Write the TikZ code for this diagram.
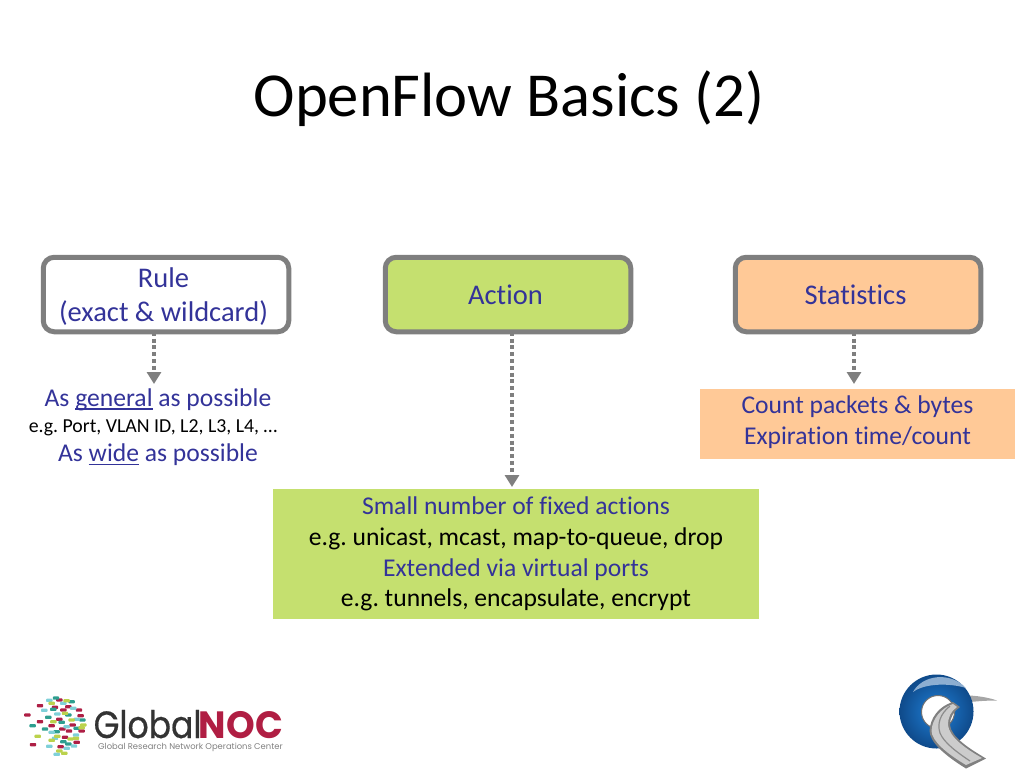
\documentclass[tikz,border=0pt]{standalone}
\usepackage{fontspec}
\setmainfont[RawFeature={-liga}]{Carlito}
\newfontfamily\logofont[FakeStretch=0.87,FakeBold=0.5]{Poppins}
\newfontfamily\logoboldfont[FakeStretch=0.96,BoldFont={Poppins Bold}]{Poppins}
\newfontfamily\logosmallfont{Poppins}
\usepackage{xcolor}
\usetikzlibrary{arrows.meta,positioning,calc}

\definecolor{slateblue}{HTML}{333399}
\definecolor{edgegray}{HTML}{7F7F7F}
\definecolor{actiongreen}{HTML}{C5E06F}
\definecolor{statorange}{HTML}{FFC997}
\definecolor{nocred}{HTML}{B01E43}
\definecolor{tilered}{HTML}{AE1F45}
\definecolor{tileteal}{HTML}{2E9E8F}
\definecolor{tilesky}{HTML}{7FD0D8}
\definecolor{tilelime}{HTML}{BBD24C}
\definecolor{ringtop}{HTML}{A3BFDC}
\definecolor{ringmid}{HTML}{1F80D8}
\definecolor{ringlow}{HTML}{0F4A8A}

\newcommand{\bodysize}{\fontsize{25.6}{30.8}\selectfont}
\newcommand{\ulword}[1]{\setbox0=\hbox{#1}\rlap{\rule[-3pt]{\wd0}{1.4pt}}\box0\relax}
\newcommand{\shifttext}[2]{\rule[-5pt]{0pt}{\dimexpr 5pt+2\dimexpr#1\relax\relax}\smash{\begin{tabular}{@{}c@{}}#2\end{tabular}}}
\newcommand{\headtext}[1]{\shifttext{12.5pt}{#1}\kern5pt}
\frenchspacing

\begin{document}
\begin{tikzpicture}[
    x=1pt, y=-1pt,
    headbox/.style={rectangle, rounded corners=11pt, draw=edgegray, line width=5pt,
        minimum width=245.5pt, minimum height=74.5pt, outer sep=0pt, align=center,
        text=slateblue, font=\fontsize{28.5}{31}\selectfont},
    notebox/.style={rectangle, outer sep=0pt, align=center, font=\bodysize, text=slateblue},
    noteline/.style={inner sep=0pt, text=slateblue, font=\bodysize},
    arrow/.style={-{Triangle[length=12pt,width=14pt]}, draw=edgegray, line width=4.4pt,
        dash pattern=on 4pt off 2.8pt},
    tile/.style={fill=#1, rounded corners=0.8pt}
]
    \useasboundingbox (0,0) rectangle (1024,768);

    \node[font=\fontsize{62.6}{70}\selectfont] (title) at (509,99) {OpenFlow Basics (2)};

    \node[headbox, fill=white] (rule) at (166,294.5) {\headtext{Rule\\[3pt](exact \& wildcard)}};
    \node[headbox, fill=actiongreen, right=96.5pt of rule] (action) {\headtext{Action}};
    \node[headbox, fill=statorange, right=104.5pt of action] (stats) {\headtext{Statistics}};

    \node[noteline] (general) at (158,400) {As \ulword{general} as possible};
    \node[noteline, text=black, font=\fontsize{19.8}{24}\selectfont, below=8pt of general, xshift=-5pt] (fields) {e.g. Port, VLAN ID, L2, L3, L4, …};
    \node[noteline, below=8pt of fields, xshift=5pt] (wide) {As \ulword{wide} as possible};

    \node[notebox, fill=statorange, minimum width=315pt, minimum height=70pt] (count) at (857.5,424)
        {\shifttext{7.5pt}{Count packets \& bytes\\Expiration time/count}};
    \node[notebox, fill=actiongreen, minimum width=486pt, minimum height=130pt] (fixed) at (516,554)
        {Small number of fixed actions\\
         \textcolor{black}{e.g. unicast, mcast, map-to-queue, drop}\\
         Extended via virtual ports\\
         \textcolor{black}{e.g. tunnels, encapsulate, encrypt}};

    \coordinate (generaltip) at (154,384);
    \coordinate (fixedtip) at (512,487);
    \coordinate (counttip) at (854,384);
    \draw[arrow] (rule.south -| generaltip) -- (generaltip);
    \draw[arrow] (action.south -| fixedtip) -- (fixedtip);
    \draw[arrow] (stats.south -| counttip) -- (counttip);

    % GlobalNOC logo
    \foreach \tx/\ty in {82/135,120/107,120/155,99/224,178/90,205/110,190/120,165/112,237/120,242/137,178/148,155/167,187/177,207/183,245/183,218/165,195/202,230/217,182/230}
        \fill[tile=tilered] ({\tx/3-3.2},{670+\ty/3-1.6}) rectangle ++(6.4,3.2);
    \foreach \tx/\ty in {168/84,160/118,135/177,98/167,145/142,185/157,205/135,230/175,190/215,205/222,247/150,215/95,170/185}
        \fill[tile=tileteal] ({\tx/3-3.2},{670+\ty/3-1.6}) rectangle ++(6.4,3.2);
    \foreach \tx/\ty in {148/91,133/121,190/100,172/132,220/115,155/187,165/205,228/195,148/229,170/253,222/228,200/235,230/148,200/170}
        \fill[tile=tilesky] ({\tx/3-3.2},{670+\ty/3-1.6}) rectangle ++(6.4,3.2);
    \foreach \tx/\ty in {155/100,200/92,113/199,160/155,195/130,215/150,245/173,172/199,155/211,212/207,228/205,178/243,193/250,250/165}
        \fill[tile=tilelime] ({\tx/3-3.2},{670+\ty/3-1.6}) rectangle ++(6.4,3.2);
    \node[anchor=base west, inner sep=0pt, font=\logofont\fontsize{38}{40}\selectfont, text=black!80] (globalword) at (93.5,738) {Global};
    \node[anchor=base west, inner sep=0pt, font=\logoboldfont\bfseries\fontsize{38}{40}\selectfont, text=nocred, xshift=-3pt] (nocword) at (globalword.base east) {NOC};
    \node[anchor=base west, inner sep=0pt, font=\logosmallfont\fontsize{8.4}{10}\selectfont, text=black!50] (nocname) at (98,749.5) {Global Research Network Operations Center};

    % Q logo
    \fill[black!35] (969,695.5) .. controls (980,696) and (990,698) .. (997,700.5)
        .. controls (988,700.5) and (980,701) .. (970,702) -- cycle;
    \shade[even odd rule, inner color=ringmid, outer color=ringlow]
        (936.5,711.5) circle (37) (938,712) circle (16.5);
    \fill[ringtop, opacity=0.85] (913,692) .. controls (922,675) and (950,671) .. (966,688)
        .. controls (950,683) and (925,683) .. (913,692) -- cycle;
    \draw[black!55, line width=1pt] (938,712) circle (16.5);
    \fill[black!50] (953,702) .. controls (939,706) and (930,718) .. (929.5,731)
        .. controls (930,742) and (944,755) .. (966,768.5)
        -- (986,758.5) .. controls (970,749) and (951,737) .. (950,725)
        .. controls (950,717) and (954,711) .. (960,707) -- cycle;
    \fill[black!20] (953,704) .. controls (941,708) and (932,719) .. (931.5,731)
        .. controls (932,741) and (946,753) .. (966,765)
        -- (982,758) .. controls (966,749) and (949,737) .. (948,725)
        .. controls (948,717) and (951,711) .. (957,707) -- cycle;
    \draw[black!45, line width=1.2pt] (950,706) .. controls (940,714) and (937,724) .. (940,733) .. controls (944,743) and (958,753) .. (970,761);
\end{tikzpicture}
\end{document}
